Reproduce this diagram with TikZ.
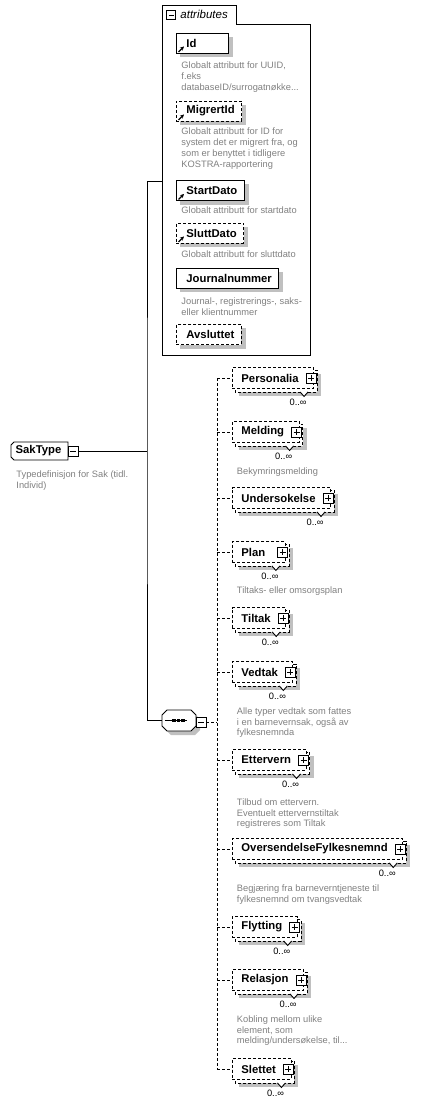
\documentclass[tikz,border=0pt]{standalone}
\usepackage{fontspec}
\setmainfont{Liberation Sans}
\usetikzlibrary{arrows.meta,backgrounds}

\definecolor{shadowgray}{RGB}{192,192,192}
\definecolor{docgray}{RGB}{128,128,128}

\newcommand{\namefont}{\fontsize{11.3}{13}\selectfont\bfseries}
\newcommand{\docfont}{\fontsize{9.3}{10.4}\selectfont}
\newcommand{\attrdocfont}{\fontsize{9.3}{11}\selectfont}

\tikzset{
  dashline/.style={dash pattern=on 3pt off 2pt},
  minusbox/.style={draw, solid, fill=white, minimum size=10pt, inner sep=0pt,
    path picture={\draw[solid] ([xshift=2pt]path picture bounding box.west) -- ([xshift=-2pt]path picture bounding box.east);}},
  plusbox/.style={draw, solid, fill=white, minimum size=10pt, inner sep=0pt,
    path picture={\draw[solid] ([xshift=2pt]path picture bounding box.west) -- ([xshift=-2pt]path picture bounding box.east)
      ([yshift=-2pt]path picture bounding box.north) -- ([yshift=2pt]path picture bounding box.south);}},
  elembox/.style={draw, dashline, fill=white, minimum width=53pt, minimum height=21pt, inner xsep=9pt, inner ysep=0pt,
    align=left, anchor=west, font=\namefont},
  attrreq/.style={draw, fill=white, minimum width=52pt, minimum height=20pt, inner xsep=10pt, inner ysep=0pt,
    align=left, anchor=west, font=\namefont},
  attropt/.style={attrreq, dashline},
  occur/.style={font=\docfont, inner sep=0pt, anchor=east},
  doc/.style={font=\docfont, text=docgray, inner sep=0pt, align=left, anchor=north west},
  attrdoc/.style={doc, font=\attrdocfont}
}

% element with several occurrences: [options] name, y, label
\newcommand{\multielem}[4][]{%
  \node[elembox,#1] (#2) at (232,#3) {#4\hspace{6pt}};
  \begin{scope}[on background layer]
    \fill[shadowgray] ([shift={(7,7)}]#2.north west) rectangle ([shift={(7,7)}]#2.south east);
    \draw[dashline, fill=white] ([shift={(3,3)}]#2.north west) rectangle ([shift={(3,3)}]#2.south east);
  \end{scope}
  \node[plusbox] (#2-plus) at ([xshift=-3pt]#2.east) {};
  \draw[solid, fill=white] ([shift={(-14,3)}]#2.south east) -- ++(4,4.5) -- ++(4,-4.5);
  \node[occur] (#2-occ) at ([shift={(-7,13.5)}]#2.south east) {0..∞};
}

% attribute: name, y, label, style
\newcommand{\attrbox}[4]{%
  \node[#4] (#1) at (176,#2) {#3\hspace{-3pt}};
  \begin{scope}[on background layer]
    \fill[shadowgray] ([shift={(4,4)}]#1.north west) rectangle ([shift={(4,4)}]#1.south east);
  \end{scope}
}
\newcommand{\refarrow}[1]{\draw[->, solid, line width=1.2pt] ([shift={(2.5,-1.5)}]#1.south west) -- ++(5.5,-5.5);}

\begin{document}
\begin{tikzpicture}[x=1pt, y=-1pt, line width=0.9pt, >={Stealth[length=4pt,width=4pt]}]
  \useasboundingbox (0,0) rectangle (422,1105);

  % attributes
  \draw (162,355) -- (162,5) -- (236,5) -- (236,24) -- (310,24) -- (310,355) -- cycle;
  \node[minusbox, minimum size=9pt] (attrminus) at (171,15) {};
  \node[font=\fontsize{11.5}{13}\selectfont\itshape, anchor=west, inner sep=0pt] (attrtitle) at (180,14.5) {attributes};

  \attrbox{id}{43}{Id}{attrreq, text width=32pt}
  \attrbox{migr}{111}{MigrertId}{attropt}
  \attrbox{start}{190.5}{StartDato}{attrreq}
  \attrbox{slutt}{233}{SluttDato}{attropt}
  \attrbox{journ}{278}{Journalnummer}{attrreq}
  \attrbox{avsl}{334.5}{Avsluttet}{attropt}
  \refarrow{id}
  \refarrow{migr}
  \refarrow{start}
  \refarrow{slutt}

  \node[attrdoc] (id-doc) at (181,61.5) {Globalt attributt for UUID,\\f.eks\\databaseID/surrogatnøkke...};
  \node[attrdoc] (migr-doc) at (181,127.5) {Globalt attributt for ID for\\system det er migrert fra, og\\som er benyttet i tidligere\\KOSTRA-rapportering};
  \node[attrdoc] (start-doc) at (181,206.5) {Globalt attributt for startdato};
  \node[attrdoc] (slutt-doc) at (181,250.5) {Globalt attributt for sluttdato};
  \node[attrdoc] (journ-doc) at (181,297.5) {Journal-, registrerings-, saks-\\eller klientnummer};

  % complex type
  \draw[fill=white] (14,442) -- (68,442) -- (68,460) -- (14,460) -- (11,457) -- (11,445) -- cycle;
  \node[font=\namefont, inner sep=0pt] (sak) at (38.5,451) {SakType};
  \node[minusbox] (sakminus) at (73,451) {};
  \node[doc] (sak-doc) at (16,470.5) {Typedefinisjon for Sak (tidl.\\Individ)};

  % sequence
  \fill[shadowgray] (171,714) -- (195,714) -- (200,719) -- (200,730) -- (195,735) -- (171,735) -- (166,730) -- (166,719) -- cycle;
  \draw[fill=white] (167,710) -- (191,710) -- (196,715) -- (196,726) -- (191,731) -- (167,731) -- (162,726) -- (162,715) -- cycle;
  \node[minimum width=34pt, minimum height=21pt, inner sep=0pt] (seq) at (179,720.5) {};
  \draw ([xshift=3pt]seq.west) -- ([xshift=-9pt]seq.east);
  \foreach \dx in {-5,-0.5,4}
    \fill ([xshift=\dx pt]seq.center) +(-1.6,-1.3) rectangle +(1.6,1.3);
  \node[minusbox] (seqminus) at (201,722.5) {};

  \coordinate (trunk) at (147,451);
  \coordinate (attrin) at (162,181);
  \draw (sakminus) -- (trunk);
  \draw (attrin) -| (trunk) |- (seq.west);

  % child elements
  \multielem{pers}{378}{Personalia}
  \multielem{meld}{432}{Melding}
  \multielem{unders}{498}{Undersokelse}
  \multielem[text width=35pt]{plan}{552}{Plan}
  \multielem{tiltak}{618}{Tiltak}
  \multielem{vedtak}{672}{Vedtak}
  \multielem{etter}{760}{Ettervern}
  \multielem{overs}{849}{OversendelseFylkesnemnd}
  \multielem{flytt}{927}{Flytting}
  \multielem{rel}{980}{Relasjon}
  \multielem{slet}{1069}{Slettet}

  \node[doc] (meld-doc) at (236.5,467.5) {Bekymringsmelding};
  \node[doc] (plan-doc) at (236.5,586.5) {Tiltaks- eller omsorgsplan};
  \node[doc] (vedtak-doc) at (236.5,707.5) {Alle typer vedtak som fattes\\i en barnevernsak, også av\\fylkesnemnda};
  \node[doc] (etter-doc) at (236.5,798.5) {Tilbud om ettervern.\\Eventuelt ettervernstiltak\\registreres som Tiltak};
  \node[doc] (overs-doc) at (236.5,884.5) {Begjæring fra barneverntjeneste til\\fylkesnemnd om tvangsvedtak};
  \node[doc] (rel-doc) at (236.5,1015.5) {Kobling mellom ulike\\element, som\\melding/undersøkelse, til...};

  \coordinate (rail) at (217,722.5);
  \draw[dashline] (seqminus) -- (rail);
  \draw[dashline] (rail |- pers.west) -- (rail |- slet.west);
  \foreach \e in {pers,meld,unders,plan,tiltak,vedtak,etter,overs,flytt,rel,slet}
    \draw[dashline] (rail |- \e.west) -- (\e.west);
\end{tikzpicture}
\end{document}
